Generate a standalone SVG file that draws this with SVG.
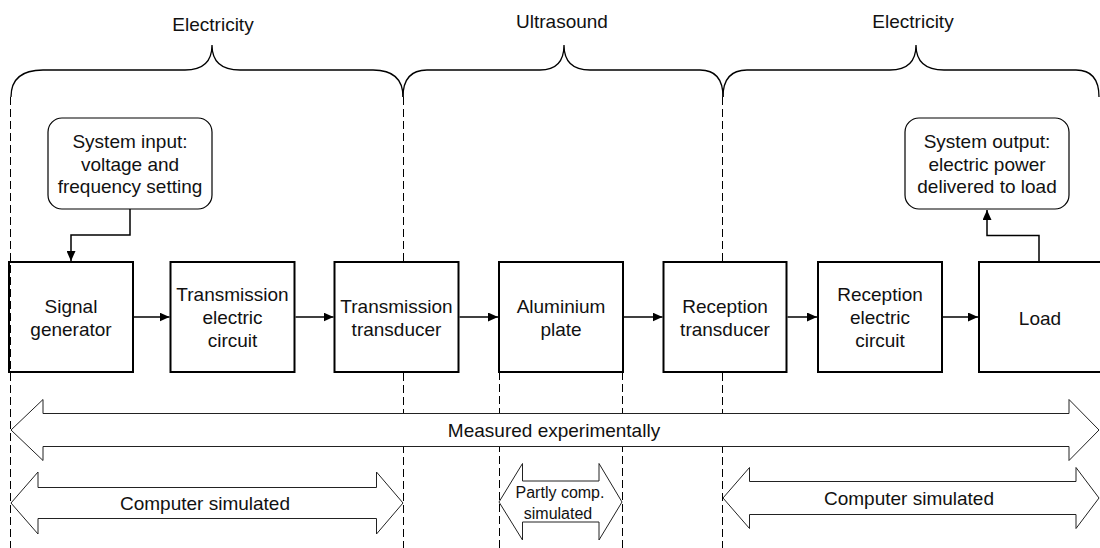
<svg xmlns="http://www.w3.org/2000/svg" width="1100" height="548" viewBox="0 0 1100 548">
<style>
text{font-family:"Liberation Sans",Arial,sans-serif;font-size:19px;fill:#111;text-anchor:middle}
.small{font-size:16px}
.box{fill:#fff;stroke:#000;stroke-width:2}
.rbox{fill:#fff;stroke:#000;stroke-width:1.2}
.dash{fill:none;stroke:#000;stroke-width:1;stroke-dasharray:8,4}
.brace{fill:none;stroke:#000;stroke-width:1.3}
.conn{fill:none;stroke:#000;stroke-width:1.5;marker-end:url(#ah)}
.big{fill:#fff;stroke:#222;stroke-width:1}
</style>
<defs>
<marker id="ah" markerUnits="userSpaceOnUse" markerWidth="10" markerHeight="9" refX="10" refY="4.5" orient="auto">
<path d="M0,0 L10,4.5 L0,9 z" fill="#000"/>
</marker>
</defs>
<rect width="1100" height="548" fill="#fff"/>

<g id="dividers">
<path class="dash" d="M10.5,97 V548"/>
<path class="dash" d="M403.5,97 V548"/>
<path class="dash" d="M722.5,97 V548"/>
<path class="dash" d="M499.5,372 V548"/>
<path class="dash" d="M622.5,372 V548"/>
</g>

<g id="braces">
<path class="brace" d="M11,97 Q11,70 43,70 L185,70 Q212,70 212,45 Q212,70 240,70 L373,70 Q403,70 403,97"/>
<path class="brace" d="M403,97 Q403,70 427,70 L540,70 Q564,70 564,45 Q564,70 590,70 L700,70 Q723,70 723,97"/>
<path class="brace" d="M723,97 Q723,70 747,70 L890,70 Q916,70 916,45 Q916,70 944,70 L1076,70 Q1099,70 1099,97"/>
<text x="213" y="31">Electricity</text>
<text x="562" y="28">Ultrasound</text>
<text x="913" y="28">Electricity</text>
</g>

<g id="input">
<rect class="rbox" x="48" y="118" width="164" height="91" rx="14"/>
<text x="130" y="148">System input:</text>
<text x="130" y="170.5">voltage and</text>
<text x="130" y="193">frequency setting</text>
</g>
<g id="output">
<rect class="rbox" x="905" y="118" width="164" height="91" rx="14"/>
<text x="987" y="148">System output:</text>
<text x="987" y="170.5">electric power</text>
<text x="987" y="193">delivered to load</text>
</g>

<g id="signal-generator">
<rect class="box" x="9" y="262" width="124" height="110" style="fill:none"/>
<text x="71" y="313">Signal</text>
<text x="71" y="336">generator</text>
</g>
<g id="transmission-circuit">
<rect class="box" x="170.5" y="262" width="124" height="110"/>
<text x="232.5" y="301">Transmission</text>
<text x="232.5" y="324">electric</text>
<text x="232.5" y="347">circuit</text>
</g>
<g id="transmission-transducer">
<rect class="box" x="334.5" y="262" width="124" height="110"/>
<text x="396.5" y="313">Transmission</text>
<text x="396.5" y="336">transducer</text>
</g>
<g id="aluminium-plate">
<rect class="box" x="499" y="262" width="124" height="110"/>
<text x="561" y="313">Aluminium</text>
<text x="561" y="336">plate</text>
</g>
<g id="reception-transducer">
<rect class="box" x="663.5" y="262" width="123" height="110"/>
<text x="725" y="313">Reception</text>
<text x="725" y="336">transducer</text>
</g>
<g id="reception-circuit">
<rect class="box" x="818" y="262" width="124" height="110"/>
<text x="880" y="301">Reception</text>
<text x="880" y="324">electric</text>
<text x="880" y="347">circuit</text>
</g>
<g id="load">
<rect class="box" x="979" y="262" width="124" height="110"/>
<text x="1040" y="324.5">Load</text>
</g>

<g id="connectors">
<path class="conn" d="M130,209 V235 H71 V261"/>
<path class="conn" d="M1039,262 V235.5 H987 V210"/>
<path class="conn" d="M134,317 H169.5"/>
<path class="conn" d="M295.5,317 H333.5"/>
<path class="conn" d="M459.5,317 H498"/>
<path class="conn" d="M624,317 H662.5"/>
<path class="conn" d="M787.5,317 H817"/>
<path class="conn" d="M943,317 H978"/>
</g>

<g id="measured">
<polygon class="big" points="11,430 43,399.5 43,413.5 1069,413.5 1069,399.5 1099,430 1069,460.5 1069,446.5 43,446.5 43,460.5"/>
<text x="554" y="436.5">Measured experimentally</text>
</g>
<g id="sim-left">
<polygon class="big" points="11,503 38,472 38,487.5 376.5,487.5 376.5,472 403,503 376.5,534 376.5,518.5 38,518.5 38,534"/>
<text x="205" y="510">Computer simulated</text>
</g>
<g id="sim-partly">
<polygon class="big" points="499,502 522.5,463.5 522.5,481 599,481 599,463.5 622,502 599,540 599,522 522.5,522 522.5,540"/>
<text class="small" x="560" y="497.5">Partly comp.</text>
<text class="small" x="558" y="519">simulated</text>
</g>
<g id="sim-right">
<polygon class="big" points="723,498 749.5,467.5 749.5,481.5 1076,481.5 1076,467.5 1099,498 1076,528.5 1076,514.5 749.5,514.5 749.5,528.5"/>
<text x="909" y="504.5">Computer simulated</text>
</g>
</svg>
